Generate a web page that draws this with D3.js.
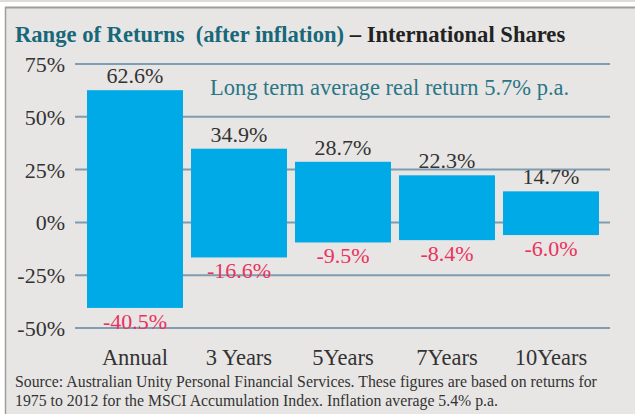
<!DOCTYPE html>
<html>
<head>
<meta charset="utf-8">
<script src="https://cdn.jsdelivr.net/npm/d3@7"></script>
<style>
  body { margin: 0; background: #fff; }
  svg { display: block; }
</style>
</head>
<body>
<script>
const categories = ["Annual", "3 Years", "5Years", "7Years", "10Years"];
const highs = [62.6, 34.9, 28.7, 22.3, 14.7];
const lows = [-40.5, -16.6, -9.5, -8.4, -6.0];
const yTicks = [75, 50, 25, 0, -25, -50];

const width = 635;
const height = 414;
const serif = "'Liberation Serif', 'DejaVu Serif', serif";

const svg = d3
  .select("body")
  .append("svg")
  .attr("width", width)
  .attr("height", height);

// panel + frame
svg.append("rect").attr("x", 0).attr("y", 0).attr("width", width).attr("height", 2).attr("fill", "#dcdcdc");
svg.append("rect").attr("x", 5).attr("y", 7).attr("width", width - 5).attr("height", height - 7).attr("fill", "#e8e6e4");
svg.append("line").attr("x1", 5).attr("x2", width).attr("y1", 7.5).attr("y2", 7.5).attr("stroke", "#a19d9b").attr("stroke-width", 2);
svg.append("line").attr("x1", 5.5).attr("x2", 5.5).attr("y1", 7).attr("y2", height).attr("stroke", "#a19d9b").attr("stroke-width", 1.5);

// title
const title = svg
  .append("text")
  .attr("x", 15)
  .attr("y", 42)
  .style("font-family", serif)
  .style("font-size", "22.6px")
  .style("font-weight", "bold");
title.append("tspan").attr("fill", "#17687a").text("Range of Returns\u00a0 (after inflation) ");
title.append("tspan").attr("fill", "#222").text("\u2013 International Shares");

// scales
const xScale = d3
  .scaleBand()
  .domain(categories)
  .range([79, 607])
  .paddingInner(0.077)
  .paddingOuter(0.077);

const yScale = d3.scaleLinear().domain([-50, 75]).range([328, 64]);

// gridlines
svg
  .append("g")
  .selectAll("line")
  .data(yTicks)
  .enter()
  .append("line")
  .attr("x1", 75)
  .attr("x2", 610)
  .attr("y1", (d) => yScale(d))
  .attr("y2", (d) => yScale(d))
  .attr("stroke", "#7f9cb2")
  .attr("stroke-width", 2);

// y tick labels
svg
  .append("g")
  .selectAll("text")
  .data(yTicks)
  .enter()
  .append("text")
  .attr("x", 65)
  .attr("y", (d) => yScale(d) + 8)
  .attr("text-anchor", "end")
  .attr("fill", "#333")
  .style("font-family", serif)
  .style("font-size", "22px")
  .text((d) => d + "%");

// bars
svg
  .selectAll("rect.bar")
  .data(categories)
  .enter()
  .append("rect")
  .attr("class", "bar")
  .attr("x", (d) => xScale(d))
  .attr("y", (d, i) => yScale(highs[i]))
  .attr("width", xScale.bandwidth())
  .attr("height", (d, i) => yScale(lows[i]) - yScale(highs[i]))
  .attr("fill", "#00aae6");

// value labels
svg
  .append("g")
  .selectAll("text")
  .data(categories)
  .enter()
  .append("text")
  .attr("x", (d) => xScale(d) + xScale.bandwidth() / 2)
  .attr("y", (d, i) => yScale(highs[i]) - 7)
  .attr("text-anchor", "middle")
  .attr("fill", "#333")
  .style("font-family", serif)
  .style("font-size", "22px")
  .text((d, i) => highs[i].toFixed(1) + "%");

svg
  .append("g")
  .selectAll("text")
  .data(categories)
  .enter()
  .append("text")
  .attr("x", (d) => xScale(d) + xScale.bandwidth() / 2)
  .attr("y", (d, i) => yScale(lows[i]) + 21)
  .attr("text-anchor", "middle")
  .attr("fill", "#e8335f")
  .style("font-family", serif)
  .style("font-size", "22px")
  .text((d, i) => lows[i].toFixed(1) + "%");

// category labels
svg
  .append("g")
  .selectAll("text")
  .data(categories)
  .enter()
  .append("text")
  .attr("x", (d) => xScale(d) + xScale.bandwidth() / 2)
  .attr("y", 365)
  .attr("text-anchor", "middle")
  .attr("fill", "#333")
  .style("font-family", serif)
  .style("font-size", "22.5px")
  .text((d) => d);

// annotation
svg
  .append("text")
  .attr("x", 210)
  .attr("y", 95)
  .attr("fill", "#2a7686")
  .style("font-family", serif)
  .style("font-size", "22.5px")
  .text("Long term average real return 5.7% p.a.");

// source note
const note = svg
  .append("text")
  .attr("fill", "#333")
  .style("font-family", serif)
  .style("font-size", "15.8px");
note.append("tspan").attr("x", 15).attr("y", 387)
  .text("Source: Australian Unity Personal Financial Services. These figures are based on returns for");
note.append("tspan").attr("x", 15).attr("y", 406)
  .text("1975 to 2012 for the MSCI Accumulation Index. Inflation average 5.4% p.a.");
</script>
</body>
</html>
